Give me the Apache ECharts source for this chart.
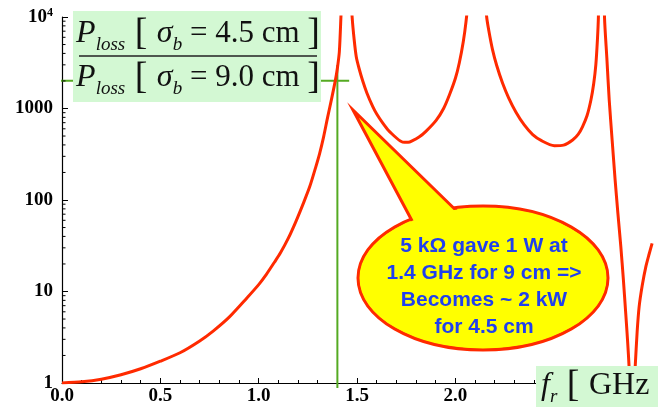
<!DOCTYPE html>
<html>
<head>
<meta charset="utf-8">
<script src="https://cdn.jsdelivr.net/npm/echarts@6/dist/echarts.min.js"></script>
<style>
  html, body { margin: 0; padding: 0; background: #fff; }
  #chart { width: 658px; height: 407px; }
</style>
</head>
<body>
<div id="chart"></div>
<script>
// values: loss ratio P(4.5 cm) / P(9.0 cm) vs resonator frequency
// (points above 10^4 or below 1 run off the plot and get clipped)
const freqGHz = [
  0.00, 0.10, 0.20, 0.30, 0.40, 0.50, 0.60, 0.70, 0.77, 0.85, 0.94, 1.00, 1.04, 1.08, 1.11, 1.15,
  1.19, 1.23, 1.26, 1.29, 1.31, 1.33, 1.35, 1.37, 1.39, 1.40, 1.41, 1.418, 1.425, 1.435, 1.446,
  1.458, 1.465, 1.475, 1.485, 1.496, 1.51, 1.529, 1.55, 1.58, 1.60, 1.631, 1.66, 1.699, 1.72,
  1.741, 1.76, 1.78, 1.817, 1.85, 1.902, 1.94, 1.97, 2.00, 2.02, 2.04, 2.054, 2.065, 2.08, 2.108,
  2.14, 2.15, 2.159, 2.17, 2.189, 2.21, 2.24, 2.27, 2.308, 2.35, 2.393, 2.44, 2.503, 2.55, 2.596,
  2.625, 2.646, 2.669, 2.689, 2.703, 2.714, 2.722, 2.727, 2.735, 2.742, 2.75, 2.758, 2.77, 2.782,
  2.797, 2.812, 2.826, 2.841, 2.854, 2.866, 2.876, 2.883, 2.89, 2.897, 2.905, 2.914, 2.924, 2.934,
  2.95, 2.968, 2.985, 3.00
];
const lossRatio = [
  1.00, 1.03, 1.10, 1.23, 1.43, 1.73, 2.14, 2.88, 3.72, 5.25, 8.51, 11.9, 15.5, 20.9, 26.3, 38.0,
  58.9, 95.5, 141, 229, 324, 490, 794, 1259, 2042, 2754, 4169, 10000, 25000, 1e5, 1e7,
  1e5, 25000, 10000, 5750, 3680, 2754, 1995, 1479, 1047, 871, 692, 575, 479, 442,
  427, 427, 442, 490, 562, 741, 1000, 1413, 2138, 3162, 5370, 8913, 15850, 1e5, 1e7,
  1e5, 20000, 10000, 7080, 4370, 2950, 1885, 1318, 912, 661, 519, 442, 392, 398, 453,
  525, 631, 832, 1239, 1862, 3020, 5620, 10000, 1e5, 1e7, 1e5, 10000, 3550, 1239,
  447, 166, 72, 31, 13.5, 5.75, 2.75, 1.5, 0.63, 0.03, 0.63, 1.5, 3.63, 6.8,
  11.7, 18.6, 25.7, 33.6
];
const xTicks = [0.0, 0.5, 1.0, 1.5, 2.0, 2.5, 3.0];
const yMinorTicks = [2, 3, 4, 5, 6, 7, 8, 9, 20, 30, 40, 50, 60, 70, 80, 90,
  200, 300, 400, 500, 600, 700, 800, 900, 2000, 3000, 4000, 5000, 6000, 7000, 8000, 9000];
// green guide at 1.4 GHz / ~2000
const guideFreq = 1.4;
const guideRatio = 2010;
const guideHX = [-0.055, 1.46];
const guideVY = [0.88, 2990];

const serif = "'Liberation Serif', 'DejaVu Serif', serif";
const sans = "'Liberation Sans', Arial, sans-serif";
const red = "#ff2a00";
const green = "#55aa22";

const chart = echarts.init(document.getElementById("chart"));

// rich styles shared by the two fraction lines
const fracRich = {
  P: { fontFamily: serif, fontStyle: "italic", fontSize: 32, fill: "#111", lineHeight: 40 },
  sub: { fontFamily: serif, fontStyle: "italic", fontSize: 19, fill: "#111", verticalAlign: "bottom", lineHeight: 40 },
  br: { fontFamily: serif, fontSize: 38, fill: "#111", lineHeight: 40 },
  sig: { fontFamily: serif, fontStyle: "italic", fontSize: 32, fill: "#111", lineHeight: 40 },
  t: { fontFamily: serif, fontSize: 31, fill: "#111", lineHeight: 40 }
};

chart.setOption({
  animation: false,
  grid: { left: 62, right: 0, top: 17, bottom: 24, containLabel: false, outerBoundsMode: "none" },
  xAxis: {
    type: "value",
    min: 0,
    max: 3.03,
    interval: 0.5,
    axisLine: { lineStyle: { color: "#000", width: 1.2 } },
    axisTick: { inside: true, length: 5, lineStyle: { color: "#000" } },
    minorTick: { show: true, splitNumber: 5, length: 3, lineStyle: { color: "#000" } },
    splitLine: { show: false },
    axisLabel: {
      margin: 4,
      color: "#000",
      fontFamily: serif,
      fontWeight: "bold",
      fontSize: 19,
      showMaxLabel: false,
      formatter: v => (xTicks.some(t => Math.abs(t - v) < 1e-6) ? v.toFixed(1) : "")
    }
  },
  yAxis: {
    type: "log",
    logBase: 10,
    min: 1,
    max: 10000,
    axisLine: { lineStyle: { color: "#000", width: 1.2 } },
    axisTick: { inside: true, length: 6, lineStyle: { color: "#000" } },
    splitLine: { show: false },
    axisLabel: {
      margin: 9,
      color: "#000",
      formatter: v => (v >= 9999 ? "{b|10}{s|4}" : "{b|" + Math.round(v) + "}"),
      rich: {
        b: { fontFamily: serif, fontWeight: "bold", fontSize: 19, color: "#000", lineHeight: 20 },
        s: { fontFamily: serif, fontWeight: "bold", fontSize: 12, color: "#000", verticalAlign: "top", lineHeight: 12 }
      }
    }
  },
  series: [
    {
      name: "ratio",
      type: "line",
      data: freqGHz.map((f, i) => [f, lossRatio[i]]),
      showSymbol: false,
      smooth: 0.25,
      clip: true,
      lineStyle: { color: red, width: 3, join: "round" },
      z: 3
    },
    {
      name: "guideH",
      type: "line",
      data: guideHX.map(x => [x, guideRatio]),
      showSymbol: false,
      clip: false,
      lineStyle: { color: green, width: 2 },
      z: 2
    },
    {
      name: "guideV",
      type: "line",
      data: guideVY.map(y => [guideFreq, y]),
      showSymbol: false,
      clip: false,
      lineStyle: { color: green, width: 2 },
      z: 2
    },
    {
      // log minor ticks on the y axis
      name: "minorTicks",
      type: "custom",
      clip: false,
      silent: true,
      data: yMinorTicks.map(v => [0, v]),
      renderItem: (params, api) => {
        const p = api.coord([0, api.value(1)]);
        return {
          type: "line",
          shape: { x1: p[0], y1: p[1], x2: p[0] + 3.5, y2: p[1] },
          style: { stroke: "#000", lineWidth: 1 }
        };
      },
      z: 4
    }
  ],
  graphic: [
    // ratio label box
    { type: "rect", shape: { x: 73, y: 11, width: 248, height: 91 }, style: { fill: "#d3f8d3" }, z: 10 },
    {
      type: "text", x: 198, y: 34, z: 11,
      style: {
        text: "{P|P}{sub|loss}{br| [ }{sig|σ}{sub|b}{t| = 4.5 cm }{br|]}",
        align: "center", verticalAlign: "middle", rich: fracRich
      }
    },
    { type: "line", shape: { x1: 79, y1: 56, x2: 317, y2: 56 }, style: { stroke: "#222", lineWidth: 1.5 }, z: 11 },
    {
      type: "text", x: 198, y: 78, z: 11,
      style: {
        text: "{P|P}{sub|loss}{br| [ }{sig|σ}{sub|b}{t| = 9.0 cm }{br|]}",
        align: "center", verticalAlign: "middle", rich: fracRich
      }
    },
    // x axis title box
    { type: "rect", shape: { x: 536, y: 366, width: 122, height: 41 }, style: { fill: "#d3f8d3" }, z: 10 },
    {
      type: "text", x: 541, y: 386, z: 11,
      style: {
        text: "{f|f}{sub|r}{br| [ }{t|GHz}{br| ]}",
        align: "left", verticalAlign: "middle",
        rich: {
          f: { fontFamily: serif, fontStyle: "italic", fontSize: 32, fill: "#111", lineHeight: 40 },
          sub: { fontFamily: serif, fontStyle: "italic", fontSize: 19, fill: "#111", verticalAlign: "bottom", lineHeight: 40 },
          br: { fontFamily: serif, fontSize: 38, fill: "#111", lineHeight: 40 },
          t: { fontFamily: serif, fontSize: 32, fill: "#111", lineHeight: 40 }
        }
      }
    },
    // speech bubble
    { type: "ellipse", shape: { cx: 483, cy: 278, rx: 125, ry: 72 }, style: { fill: "#ffff00", stroke: red, lineWidth: 3 }, z: 12 },
    { type: "polygon", shape: { points: [[353, 110], [418, 232], [468, 222]] }, style: { fill: "#ffff00", stroke: red, lineWidth: 3, lineJoin: "miter" }, z: 13 },
    { type: "ellipse", shape: { cx: 483, cy: 278, rx: 123, ry: 70 }, style: { fill: "#ffff00" }, z: 14 },
    {
      type: "text", x: 484, y: 287, z: 15,
      style: {
        text: "5 kΩ gave 1 W at\n1.4 GHz for 9 cm =>\nBecomes ~ 2 kW\nfor 4.5 cm",
        align: "center", verticalAlign: "middle",
        fontFamily: sans, fontWeight: "bold", fontSize: 21, lineHeight: 27, fill: "#2040ee"
      }
    }
  ]
});
</script>
</body>
</html>
